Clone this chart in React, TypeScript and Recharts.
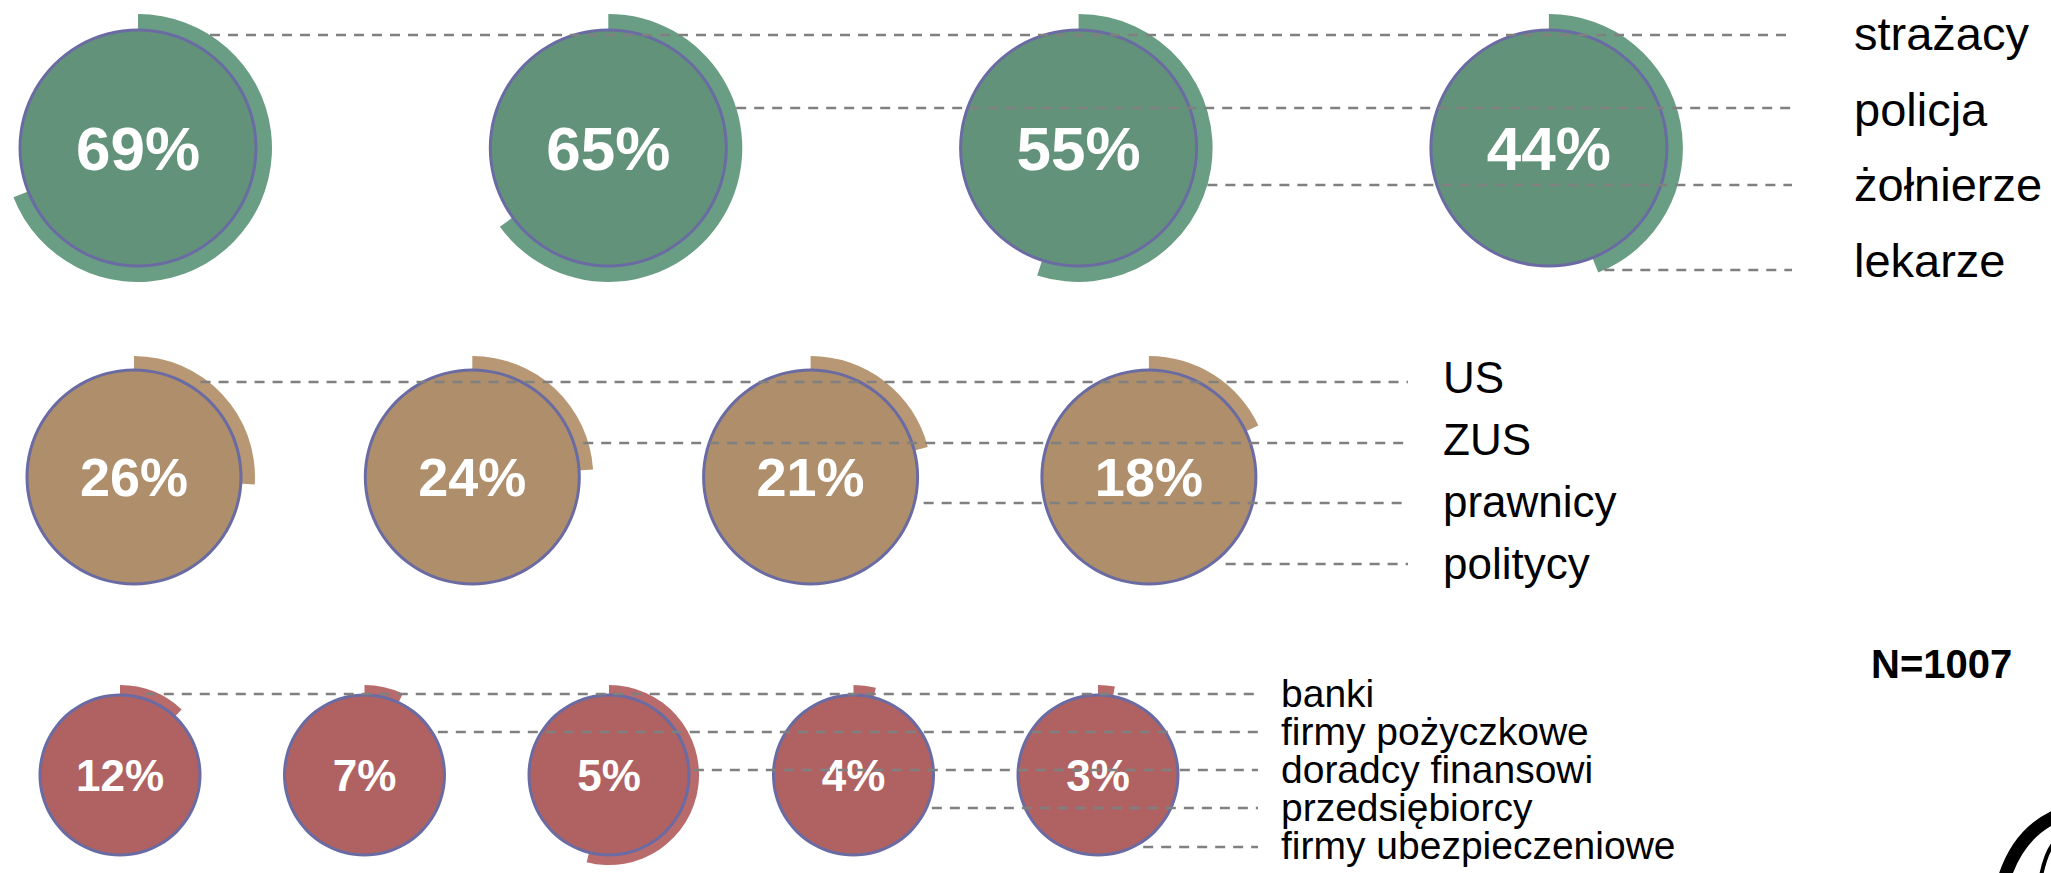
import React from "react";
import { PieChart, Pie, Cell } from "recharts";

const W = 2051;
const H = 873;
const FONT = "'Liberation Sans', Arial, sans-serif";

// ─── Data ─────────────────────────────────────────────────────────────────────

const greenValues = [69, 65, 55, 44];
const greenLabels = ["strażacy", "policja", "żołnierze", "lekarze"];

const tanValues = [26, 24, 21, 18];
const tanLabels = ["US", "ZUS", "prawnicy", "politycy"];

const redValues = [12, 7, 5, 4, 3];
// in the source the ring around "5%" runs about half way round
const redArcs = [12, 7, 54, 4, 3];
const redLabels = [
  "banki",
  "firmy pożyczkowe",
  "doradcy finansowi",
  "przedsiębiorcy",
  "firmy ubezpieczeniowe",
];

const sampleNote = "N=1007";

// ─── Layout ──────────────────────────────────────────────────────────────────

interface Row {
  values: number[];
  arcs: number[];
  labels: string[];
  x0: number;
  step: number;
  cy: number;
  r: number;
  R: number;
  fill: string;
  arcFill: string;
  pctSize: number;
  labelSize: number;
  labelX: number;
  labelY0: number;
  labelStep: number;
  lineYs: number[];
  lineEnd: number;
  leaderR: number;
}

const rows: Row[] = [
  {
    values: greenValues,
    arcs: greenValues,
    labels: greenLabels,
    x0: 138,
    step: 470.3,
    cy: 148,
    r: 118,
    R: 134,
    fill: "#62937a",
    arcFill: "#6a9e84",
    pctSize: 62,
    labelSize: 47,
    labelX: 1854,
    labelY0: 50,
    labelStep: 75.5,
    lineYs: [35, 108, 185, 270],
    lineEnd: 1792,
    leaderR: 134,
  },
  {
    values: tanValues,
    arcs: tanValues,
    labels: tanLabels,
    x0: 134,
    step: 338.3,
    cy: 477,
    r: 107,
    R: 121,
    fill: "#ae8e6b",
    arcFill: "#b89874",
    pctSize: 54,
    labelSize: 44,
    labelX: 1443,
    labelY0: 393,
    labelStep: 62,
    lineYs: [382, 443, 503, 564],
    lineEnd: 1408,
    leaderR: 116,
  },
  {
    values: redValues,
    arcs: redArcs,
    labels: redLabels,
    x0: 120,
    step: 244.5,
    cy: 775,
    r: 80,
    R: 90,
    fill: "#b06262",
    arcFill: "#b96b6b",
    pctSize: 44,
    labelSize: 39,
    labelX: 1281,
    labelY0: 707,
    labelStep: 38,
    lineYs: [694, 732, 770, 808, 847],
    lineEnd: 1258,
    leaderR: 85,
  },
];

const OUTLINE = "#6a6ba2";

// texts and leader lines sit above the discs
function Overlay() {
  return (
    <svg
      width={W}
      height={H}
      style={{ position: "absolute", left: 0, top: 0, pointerEvents: "none" }}
    >
      {rows.map((row, ri) =>
        row.values.map((v, i) => (
          <text
            key={`pct-${ri}-${i}`}
            x={row.x0 + i * row.step}
            y={row.cy + row.pctSize * 0.358}
            textAnchor="middle"
            fill="#ffffff"
            fontFamily={FONT}
            fontWeight="bold"
            fontSize={row.pctSize}
          >
            {`${v}%`}
          </text>
        ))
      )}
      {rows.map((row, ri) =>
        row.lineYs.map((y, i) => {
          const cx = row.x0 + i * row.step;
          const dy = y - row.cy;
          const off = Math.sqrt(Math.max(row.leaderR * row.leaderR - dy * dy, 0));
          return (
            <line
              key={`lead-${ri}-${i}`}
              x1={cx + off}
              x2={row.lineEnd}
              y1={y}
              y2={y}
              stroke="#808080"
              strokeWidth={2.7}
              strokeDasharray="10 8"
            />
          );
        })
      )}
      {rows.map((row, ri) =>
        row.labels.map((label, i) => (
          <text
            key={`lab-${ri}-${i}`}
            x={row.labelX}
            y={row.labelY0 + i * row.labelStep}
            fill="#000000"
            fontFamily={FONT}
            fontSize={row.labelSize}
          >
            {label}
          </text>
        ))
      )}
      <text x={1871} y={678} fontFamily={FONT} fontWeight="bold" fontSize={40} fill="#000">
        {sampleNote}
      </text>
      {/* corner of a logo, cut off by the slide edge */}
      <path d="M 2005 876 Q 2019 834 2054 817" fill="none" stroke="#000" strokeWidth={13} />
      <path d="M 2041 876 Q 2046 852 2054 843" fill="none" stroke="#000" strokeWidth={4} />
    </svg>
  );
}

export default function App() {
  return (
    <div style={{ position: "relative", width: W, height: H, background: "#fff" }}>
      <style>{"body{margin:0}"}</style>
      <PieChart width={W} height={H} margin={{ top: 0, right: 0, bottom: 0, left: 0 }}>
        {rows.flatMap((row, ri) =>
          row.arcs.map((a, i) => {
            const cx = row.x0 + i * row.step;
            return [
              <Pie
                key={`arc-${ri}-${i}`}
                data={[{ v: a }, { v: 100 - a }]}
                dataKey="v"
                cx={cx}
                cy={row.cy}
                startAngle={90}
                endAngle={-270}
                innerRadius={row.r - 6}
                outerRadius={row.R}
                stroke="none"
                isAnimationActive={false}
              >
                <Cell fill={row.arcFill} />
                <Cell fill="none" />
              </Pie>,
              <Pie
                key={`disc-${ri}-${i}`}
                data={[{ v: 1 }]}
                dataKey="v"
                cx={cx}
                cy={row.cy}
                startAngle={90}
                endAngle={-270}
                innerRadius={0}
                outerRadius={row.r}
                fill={row.fill}
                stroke="none"
                isAnimationActive={false}
              />,
              <Pie
                key={`ring-${ri}-${i}`}
                data={[{ v: 1 }]}
                dataKey="v"
                cx={cx}
                cy={row.cy}
                startAngle={90}
                endAngle={-270}
                innerRadius={row.r - 1.5}
                outerRadius={row.r + 1.5}
                fill={OUTLINE}
                stroke="none"
                isAnimationActive={false}
              />,
            ];
          })
        )}
      </PieChart>
      <Overlay />
    </div>
  );
}
